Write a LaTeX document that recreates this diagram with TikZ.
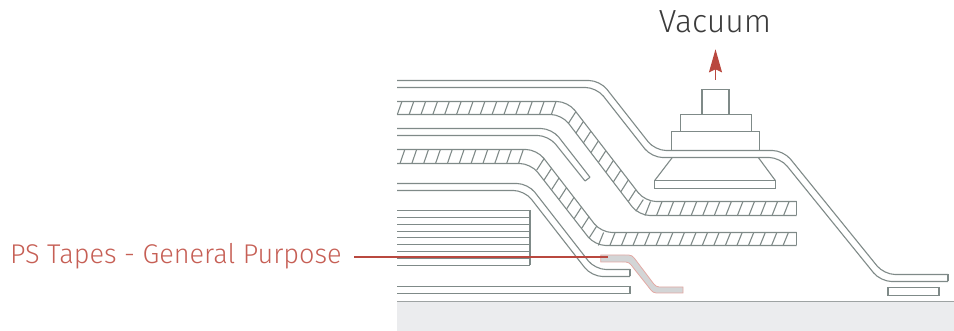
\documentclass[tikz,border=0pt]{standalone}
\usepackage{fontspec}
\setmainfont{Fira Sans Light}
\usetikzlibrary{arrows.meta}
\definecolor{inkgray}{HTML}{7F8A88}
\definecolor{basegray}{HTML}{EBECEE}
\definecolor{baseline}{HTML}{9EA3A3}
\definecolor{tapefill}{HTML}{D3D5D6}
\definecolor{tapeedge}{HTML}{E3A8A3}
\definecolor{redline}{HTML}{B9483F}
\definecolor{redtext}{HTML}{C65F55}
\definecolor{darktext}{HTML}{3C3C3C}
\tikzset{
  layer/.style={draw=inkgray,line width=1.1pt,rounded corners=11pt},
  tick/.style={draw=inkgray,line width=1.1pt},
  part/.style={draw=inkgray,line width=1.1pt,fill=white},
  leader/.style={draw=redline,line width=1.1pt},
}
\begin{document}
\begin{tikzpicture}[x=1pt,y=-1pt]
\useasboundingbox (0,0) rectangle (954,331);
% substrate
\fill[basegray] (397,301.5) rectangle (954,331);
\draw[draw=baseline,line width=1.2pt] (397,301.5) -- (954,301.5);
% vacuum cup
\draw[part] (702,89.5) rectangle (729,114.5);
\draw[part] (680.5,114.5) rectangle (751.5,131.5);
\draw[part] (671.5,131.5) rectangle (759.5,150.5);
\draw[tick] (672.3,157.5) -- (654.7,180.5);
\draw[tick] (758.3,157.5) -- (775.3,180.5);
\draw[part] (654.5,180.5) rectangle (775.5,188.5);
% top film
\draw[layer] (397,80.5) -- (600,80.5) -- (655,150.5) -- (783.5,150.5) -- (884,274.5) -- (948,274.5);
\draw[layer] (397,87.5) -- (596.6,87.5) -- (651.6,157.5) -- (780.1,157.5) -- (880.6,281.5) -- (948,281.5);
\draw[tick] (948,274.5) -- (948,281.5);
% top hatched band
\draw[layer] (397,101.5) -- (568,101.5) -- (645,201.5) -- (796.7,201.5);
\draw[layer] (397,114.5) -- (561.8,114.5) -- (638.8,215.5) -- (796.7,215.5);
\draw[tick] (796.7,201.5) -- (796.7,215.5);
\foreach \k in {0,...,13} \draw[tick] ({397.3+11.85*\k},114.5) -- ++(4.6,-13);
\foreach \i in {0,...,9} \draw[tick] ({568.3+7.5*\i},{123.5+9.75*\i}) -- ++(7.5,-11.7);
\foreach \k in {0,...,12} \draw[tick] ({645+11.55*\k},215.5) -- ++(5.5,-14);
% short film
\draw[layer] (397,128.5) -- (552,128.5) -- (590,177.3);
\draw[layer] (397,135.5) -- (548.6,135.5) -- (585,181);
\draw[tick] (590,177.3) -- (585,181);
% lower hatched band
\draw[layer] (397,149.5) -- (537,149.5) -- (601,232.5) -- (796.7,232.5);
\draw[layer] (397,163.5) -- (530.8,163.5) -- (594.8,245.5) -- (796.7,245.5);
\draw[tick] (796.7,232.5) -- (796.7,245.5);
\foreach \k in {0,...,10} \draw[tick] ({400+11.85*\k},163.5) -- ++(4.8,-14);
\foreach \i in {0,...,7} \draw[tick] ({536.7+7.5*\i},{170.1+9.68*\i}) -- ++(7.5,-11.7);
\foreach \k in {0,...,16} \draw[tick] ({598.3+11.55*\k},245.5) -- ++(5.3,-13);
% third film
\draw[layer] (397,183.5) -- (528,183.5) -- (595,269.5) -- (630,269.5);
\draw[layer] (397,190.5) -- (524.6,190.5) -- (591.6,276.5) -- (630,276.5);
\draw[tick] (630,269.5) -- (630,276.5);
% stacked sheets
\foreach \y in {210.5,217.5,224.5,231.5,237.5,244.5,251.5,258.5,265.5}
  \draw[tick] (397,\y) -- (530,\y);
\draw[tick] (530,210.5) -- (530,265.5);
% bottom film and small pad
\draw[tick] (397,286.5) -- (630,286.5) -- (630,293.5) -- (397,293.5);
\draw[part] (888,287.5) rectangle (939,295.5);
% tape
\draw[draw=tapeedge,fill=tapefill,line width=0.8pt]
  (600.7,255) -- (625,255) .. controls (632,255) and (632,255) .. (637,261.7)
  -- (651,280.3) .. controls (656,287) and (656,287) .. (663,287) -- (683,287)
  -- (683,293) -- (660,293) .. controls (653,293) and (653,293) .. (648,286.3)
  -- (634,268.7) .. controls (629,262) and (629,262) .. (622,262) -- (600.7,262) -- cycle;
% labels and leaders
\node[text=darktext,font=\fontsize{32}{32}\selectfont,anchor=base] (vacuumlabel) at (715,33) {Vacuum};
\node[text=redtext,font=\fontsize{27.1}{27}\selectfont,anchor=base west,inner sep=0pt] (tapelabel) at (10,263.3) {PS Tapes - General Purpose};
\coordinate (leadstart) at (354,257);
\coordinate (leadend) at (608,257);
\draw[leader] (leadstart) -- (leadend);
\coordinate (arrowtail) at (715.5,80);
\coordinate (arrowtip) at (715.5,49.3);
\draw[draw=redline,line width=1.3pt,-{Stealth[length=23pt,width=13pt,inset=3pt]}] (arrowtail) -- (arrowtip);
\end{tikzpicture}
\end{document}
